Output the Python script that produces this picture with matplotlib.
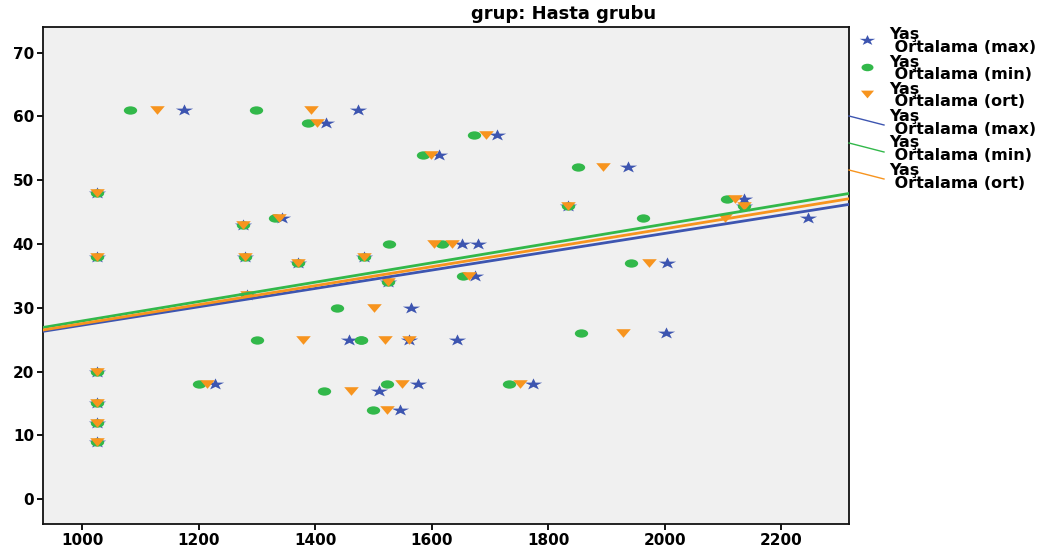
import numpy as np
import matplotlib
matplotlib.use("Agg")
import matplotlib.pyplot as plt
from matplotlib.markers import MarkerStyle
from matplotlib.path import Path
from matplotlib.lines import Line2D

# Yaş (y) ve Ortalama (x) değerleri - her gözlem için min / ort / max
yas = [61, 61, 59, 57, 54, 52, 48, 47, 46, 46, 44, 44, 43, 40, 40, 38, 38, 38,
       37, 37, 35, 34, 32, 30, 26, 25, 25, 25, 20, 18, 18, 18, 17, 15, 12, 9, 14]
ort_min = [1082, 1298, 1387, 1673, 1584, 1850, 1025, 2106, 2135, 1834, 1963, 1330,
           1275, 1527, 1618, 1025, 1279, 1484, 1370, 1942, 1654, 1524, 1282, 1437,
           1856, 1299, 1478, 1478, 1025, 1200, 1523, 1733, 1414, 1025, 1025, 1025, 1499]
ort_ort = [1129, 1393, 1402, 1693, 1599, 1894, 1025, 2120, 2135, 1834, 2103, 1337,
           1275, 1603, 1635, 1025, 1279, 1484, 1370, 1972, 1664, 1524, 1282, 1501,
           1928, 1378, 1520, 1560, 1025, 1214, 1548, 1752, 1462, 1025, 1025, 1025, 1523]
ort_max = [1175, 1474, 1418, 1711, 1612, 1936, 1025, 2136, 2135, 1834, 2245, 1343,
           1275, 1680, 1652, 1025, 1279, 1484, 1370, 2004, 1674, 1524, 1282, 1564,
           2002, 1457, 1560, 1643, 1025, 1227, 1576, 1773, 1510, 1025, 1025, 1025, 1545]

# uyum çizgileri (max, min, ort) - grafikten okunan eğim / sabit
fit_slope = [0.01438, 0.01518, 0.01487]
fit_intercept = [12.89, 12.75, 12.64]

series_labels = ["Yaş\n Ortalama (max)", "Yaş\n Ortalama (min)", "Yaş\n Ortalama (ort)"]
x_ticks = [1000, 1200, 1400, 1600, 1800, 2000, 2200]
y_ticks = [0, 10, 20, 30, 40, 50, 60, 70]

BLUE = "#3d55b0"
GREEN = "#32b84a"
ORANGE = "#f7941e"
W, H = 1055, 551


def stretched(marker, sx):
    # SPSS çıktısı yatayda gerilmiş, işaretleri de genişletiyoruz
    ms = MarkerStyle(marker)
    p = ms.get_path().transformed(ms.get_transform())
    return Path(p.vertices * np.array([sx, 1.0]), p.codes)


def fx(px):
    return px / W


def fy(py):
    return 1 - py / H


STAR = stretched("*", 1.5)
CIRC = stretched("o", 1.6)
TRI = stretched("v", 1.7)

fig = plt.figure(figsize=(W / 100, H / 100), dpi=100)
ax = fig.add_axes([fx(43), fy(524), fx(849) - fx(43), fy(27) - fy(524)])
ax.set_facecolor("#f0f0f0")

x = [np.array(ort_max), np.array(ort_min), np.array(ort_ort)]
y = np.array(yas)
colors = [BLUE, GREEN, ORANGE]
markers = [(STAR, 12.5), (CIRC, 9.6), (TRI, 10.5)]

# noktalar
for xs, c, (m, s) in zip(x, colors, markers):
    ax.plot(xs, y, linestyle="none", marker=m, markersize=s, color=c, mew=0, zorder=3)

ax.set_xlim(932.5, 2316)
ax.set_ylim(-3.9, 74.0)

# doğrusal uyum çizgileri
xl = np.array(ax.get_xlim())
for k, b, c in zip(fit_slope, fit_intercept, colors):
    ax.plot(xl, k * xl + b, color=c, lw=2.0, zorder=4)

ax.set_xticks(x_ticks)
ax.set_yticks(y_ticks)
ax.tick_params(direction="out", length=4.5, width=1.3, labelsize=11, pad=2)
for lab in ax.get_xticklabels() + ax.get_yticklabels():
    lab.set_fontweight("bold")
for sp in ax.spines.values():
    sp.set_linewidth(1.3)
    sp.set_color("#111111")

fig.text(fx(564), fy(14), "grup: Hasta grubu", ha="center", va="center",
         fontsize=13, fontweight="bold")

# lejant (elle yerleştirildi)
step = 27
for i, (lbl, c, (m, s)) in enumerate(zip(series_labels, colors, markers)):
    top, bottom = lbl.split("\n")
    yy = 35 + i * step
    fig.lines.append(Line2D([fx(867)], [fy(yy + 5)], marker=m, markersize=s * 0.9,
                            color=c, mew=0, transform=fig.transFigure))
    fig.text(fx(889), fy(yy), top, va="center", fontsize=11.5, fontweight="bold")
    fig.text(fx(889), fy(yy + 13), bottom, va="center", fontsize=11.5, fontweight="bold")
for i, (lbl, c) in enumerate(zip(series_labels, colors)):
    top, bottom = lbl.split("\n")
    yy = 35 + (i + 3) * step
    fig.lines.append(Line2D([fx(849), fx(884)], [fy(yy), fy(yy + 9)], color=c, lw=1.0,
                            transform=fig.transFigure))
    fig.text(fx(889), fy(yy), top, va="center", fontsize=11.5, fontweight="bold")
    fig.text(fx(889), fy(yy + 13), bottom, va="center", fontsize=11.5, fontweight="bold")

fig.savefig("out.png", dpi=100)
